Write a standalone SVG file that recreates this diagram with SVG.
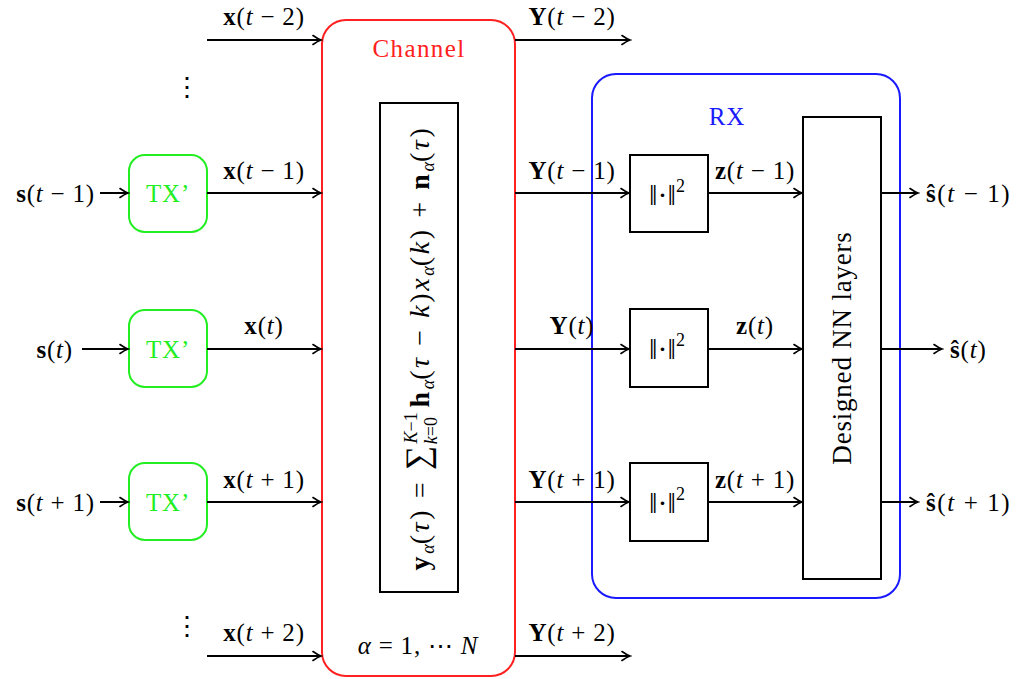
<svg xmlns="http://www.w3.org/2000/svg" width="1022" height="679" viewBox="0 0 1022 679">
<defs>
<marker id="arr" viewBox="-10 -6 12 12" refX="0" refY="0" markerWidth="12" markerHeight="12" markerUnits="userSpaceOnUse" orient="auto">
<path d="M-8,-4.5 Q-3,-1 0,0 Q-3,1 -8,4.5" fill="none" stroke="#000" stroke-width="1.6" stroke-linecap="round"/>
</marker>
</defs>
<style>
text{font-family:"Liberation Serif","DejaVu Serif",serif;font-size:25px;fill:#000;letter-spacing:0.8px}
.b{font-weight:bold}
.i{font-style:italic}
.sm{font-size:18px;letter-spacing:0}
.ln{stroke:#000;stroke-width:2;fill:none;marker-end:url(#arr)}
.box{fill:none;stroke:#000;stroke-width:2}
.tx{fill:none;stroke:#22ee22;stroke-width:2}
.txt{fill:#22ee22}
.nm{font-size:30px;letter-spacing:0}
</style>
<g id="channel">
<rect x="322" y="20" width="193" height="656" rx="24" fill="none" stroke="#ff2020" stroke-width="2"/>
<text x="419" y="57" text-anchor="middle" style="fill:#ff2020;letter-spacing:1.4px">Channel</text>
<text x="418" y="654" text-anchor="middle"><tspan class="i">α</tspan> = 1, ⋯ <tspan class="i">N</tspan></text>
</g>
<g id="formula">
<rect x="380" y="103" width="78" height="489" class="box"/>
<text transform="translate(429,348) rotate(-90)" text-anchor="middle" style="font-size:28px;letter-spacing:2.6px"><tspan class="b">y</tspan><tspan class="sm i" dy="5">α</tspan><tspan dy="-5">(</tspan><tspan class="i">τ</tspan>)  =  <tspan style="font-size:34px">∑</tspan><tspan class="sm i" dy="-12">K</tspan><tspan class="sm">−1</tspan><tspan class="sm i" dx="-32" dy="20">k</tspan><tspan class="sm">=0</tspan><tspan dy="-8"> </tspan><tspan class="b">h</tspan><tspan class="sm i" dy="5">α</tspan><tspan dy="-5">(</tspan><tspan class="i">τ</tspan> − <tspan class="i">k</tspan>)<tspan class="i">x</tspan><tspan class="sm i" dy="5">α</tspan><tspan dy="-5">(</tspan><tspan class="i">k</tspan>) + <tspan class="b">n</tspan><tspan class="sm i" dy="5">α</tspan><tspan dy="-5">(</tspan><tspan class="i">τ</tspan>)</text>
</g>
<g id="rx">
<rect x="592" y="74" width="308" height="524" rx="24" fill="none" stroke="#1a1aff" stroke-width="2"/>
<text x="727" y="125" text-anchor="middle" style="fill:#1a1aff">RX</text>
</g>
<g id="tx1"><rect x="129" y="155" width="78" height="77" rx="16" class="tx"/><text x="168" y="202" text-anchor="middle" class="txt">TX’</text></g>
<g id="tx2"><rect x="129" y="310" width="78" height="77" rx="16" class="tx"/><text x="168" y="358" text-anchor="middle" class="txt">TX’</text></g>
<g id="tx3"><rect x="129" y="463" width="78" height="77" rx="16" class="tx"/><text x="168" y="511" text-anchor="middle" class="txt">TX’</text></g>
<g id="norm1"><rect x="630" y="155" width="78" height="77" class="box"/><text x="667" y="205" text-anchor="middle" class="nm">‖·‖<tspan class="sm" dy="-13">2</tspan></text></g>
<g id="norm2"><rect x="630" y="309" width="78" height="78" class="box"/><text x="667" y="359" text-anchor="middle" class="nm">‖·‖<tspan class="sm" dy="-13">2</tspan></text></g>
<g id="norm3"><rect x="630" y="463" width="78" height="78" class="box"/><text x="667" y="513" text-anchor="middle" class="nm">‖·‖<tspan class="sm" dy="-13">2</tspan></text></g>
<g id="nn"><rect x="803" y="117" width="78" height="462" class="box"/><text transform="translate(851,348) rotate(-90)" text-anchor="middle" style="font-size:27px;letter-spacing:0.8px">Designed NN layers</text></g>
<g id="connectors">
<line x1="207" y1="40" x2="321" y2="40" class="ln"/>
<line x1="100" y1="193" x2="128" y2="193" class="ln"/>
<line x1="207" y1="193" x2="321" y2="193" class="ln"/>
<line x1="82" y1="349" x2="128" y2="349" class="ln"/>
<line x1="207" y1="349" x2="321" y2="349" class="ln"/>
<line x1="100" y1="502" x2="128" y2="502" class="ln"/>
<line x1="207" y1="502" x2="321" y2="502" class="ln"/>
<line x1="207" y1="656" x2="321" y2="656" class="ln"/>
<line x1="515" y1="40" x2="630" y2="40" class="ln"/>
<line x1="515" y1="193" x2="629" y2="193" class="ln"/>
<line x1="515" y1="349" x2="629" y2="349" class="ln"/>
<line x1="515" y1="502" x2="629" y2="502" class="ln"/>
<line x1="515" y1="656" x2="630" y2="656" class="ln"/>
<line x1="708" y1="193" x2="802" y2="193" class="ln"/>
<line x1="708" y1="349" x2="802" y2="349" class="ln"/>
<line x1="708" y1="502" x2="802" y2="502" class="ln"/>
<line x1="881" y1="193" x2="918" y2="193" class="ln"/>
<line x1="881" y1="349" x2="942" y2="349" class="ln"/>
<line x1="881" y1="502" x2="918" y2="502" class="ln"/>
</g>
<g id="labels">
<text x="264" y="25" text-anchor="middle"><tspan class="b">x</tspan>(<tspan class="i">t</tspan> − 2)</text>
<text x="264" y="179" text-anchor="middle"><tspan class="b">x</tspan>(<tspan class="i">t</tspan> − 1)</text>
<text x="264" y="334" text-anchor="middle"><tspan class="b">x</tspan>(<tspan class="i">t</tspan>)</text>
<text x="264" y="488" text-anchor="middle"><tspan class="b">x</tspan>(<tspan class="i">t</tspan> + 1)</text>
<text x="264" y="641" text-anchor="middle"><tspan class="b">x</tspan>(<tspan class="i">t</tspan> + 2)</text>
<text x="572" y="25" text-anchor="middle"><tspan class="b">Y</tspan>(<tspan class="i">t</tspan> − 2)</text>
<text x="572" y="179" text-anchor="middle"><tspan class="b">Y</tspan>(<tspan class="i">t</tspan> − 1)</text>
<text x="572" y="334" text-anchor="middle"><tspan class="b">Y</tspan>(<tspan class="i">t</tspan>)</text>
<text x="572" y="488" text-anchor="middle"><tspan class="b">Y</tspan>(<tspan class="i">t</tspan> + 1)</text>
<text x="572" y="641" text-anchor="middle"><tspan class="b">Y</tspan>(<tspan class="i">t</tspan> + 2)</text>
<text x="755" y="179" text-anchor="middle"><tspan class="b">z</tspan>(<tspan class="i">t</tspan> − 1)</text>
<text x="755" y="334" text-anchor="middle"><tspan class="b">z</tspan>(<tspan class="i">t</tspan>)</text>
<text x="755" y="488" text-anchor="middle"><tspan class="b">z</tspan>(<tspan class="i">t</tspan> + 1)</text>
<text x="95" y="202" text-anchor="end"><tspan class="b">s</tspan>(<tspan class="i">t</tspan> − 1)</text>
<text x="73" y="358" text-anchor="end"><tspan class="b">s</tspan>(<tspan class="i">t</tspan>)</text>
<text x="95" y="511" text-anchor="end"><tspan class="b">s</tspan>(<tspan class="i">t</tspan> + 1)</text>
<text x="926" y="202" style="letter-spacing:1.6px"><tspan class="b">ŝ</tspan>(<tspan class="i">t</tspan> − 1)</text>
<text x="950" y="358"><tspan class="b">ŝ</tspan>(<tspan class="i">t</tspan>)</text>
<text x="926" y="511" style="letter-spacing:1.6px"><tspan class="b">ŝ</tspan>(<tspan class="i">t</tspan> + 1)</text>
<text x="187" y="96" text-anchor="middle" style="font-size:26px">⋮</text>
<text x="187" y="635" text-anchor="middle" style="font-size:26px">⋮</text>
</g>
</svg>
